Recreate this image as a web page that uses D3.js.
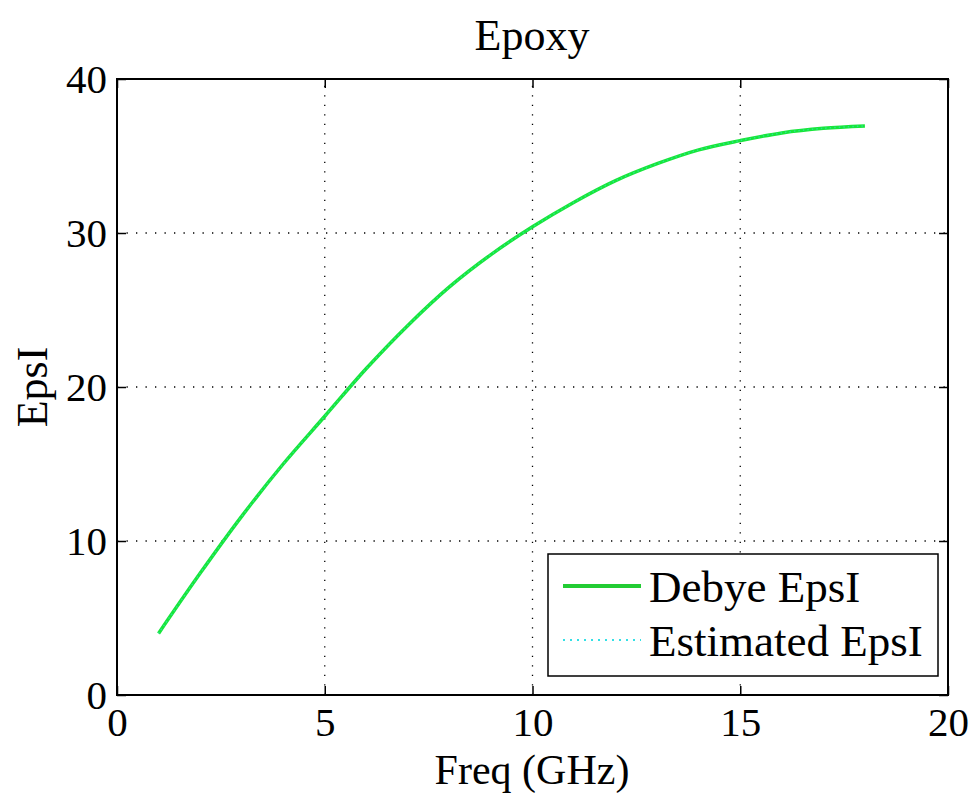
<!DOCTYPE html>
<html>
<head>
<meta charset="utf-8">
<script src="https://d3js.org/d3.v7.min.js"></script>
<style>
  html, body { margin: 0; padding: 0; background: #fff; }
  svg text { font-family: "Liberation Serif", "Times New Roman", serif; fill: #000; }
</style>
</head>
<body>
<div id="chart"></div>
<script>
!(function () {
  'use strict';

  // data
  const freq = [1, 2, 3, 4, 5, 6, 7, 8, 9, 10, 11, 12, 13, 14, 15, 16, 17, 18];
  const debyeEps = [4.0, 7.9, 11.6, 15.0, 18.1, 21.2, 24.0, 26.5, 28.6, 30.4, 32.0, 33.4, 34.5, 35.4, 36.0, 36.5, 36.8, 36.95];
  const estEps = [4.0, 7.9, 11.6, 15.0, 18.1, 21.2, 24.0, 26.5, 28.6, 30.4, 32.0, 33.4, 34.5, 35.4, 36.0, 36.5, 36.8, 36.95];
  const xTicks = [0, 5, 10, 15, 20];
  const yTicks = [0, 10, 20, 30, 40];
  const seriesNames = ['Debye EpsI', 'Estimated EpsI'];

  const width = 974, height = 800;
  const margin = { top: 79, right: 26, bottom: 105, left: 117 };
  const iw = width - margin.left - margin.right;
  const ih = height - margin.top - margin.bottom;

  const svg = d3.select('#chart').append('svg')
    .attr('width', width)
    .attr('height', height);

  const x = d3.scaleLinear().domain([0, 20]).range([margin.left, margin.left + iw]);
  const y = d3.scaleLinear().domain([0, 40]).range([margin.top + ih, margin.top]);

  // grid
  const grid = svg.append('g').attr('stroke', '#000').attr('stroke-width', 1.3)
    .attr('stroke-dasharray', '1.3,8.2');
  grid.selectAll('.gx').data(xTicks.slice(1, -1)).enter().append('line')
    .attr('x1', d => x(d)).attr('x2', d => x(d))
    .attr('y1', y(0)).attr('y2', y(40));
  grid.selectAll('.gy').data(yTicks.slice(1, -1)).enter().append('line')
    .attr('y1', d => y(d)).attr('y2', d => y(d))
    .attr('x1', x(0)).attr('x2', x(20));

  // axes with inward ticks (box style)
  const tickLen = 9;
  const axB = svg.append('g').attr('transform', 'translate(0,' + y(0) + ')')
    .call(d3.axisBottom(x).tickValues(xTicks).tickSizeInner(-tickLen).tickSizeOuter(0).tickPadding(12));
  const axT = svg.append('g').attr('transform', 'translate(0,' + y(40) + ')')
    .call(d3.axisTop(x).tickValues(xTicks).tickSizeInner(-tickLen).tickSizeOuter(0).tickFormat(''));
  const axL = svg.append('g').attr('transform', 'translate(' + x(0) + ',0)')
    .call(d3.axisLeft(y).tickValues(yTicks).tickSizeInner(-tickLen).tickSizeOuter(0).tickPadding(10));
  const axR = svg.append('g').attr('transform', 'translate(' + x(20) + ',0)')
    .call(d3.axisRight(y).tickValues(yTicks).tickSizeInner(-tickLen).tickSizeOuter(0).tickFormat(''));

  [axB, axT, axL, axR].forEach(function (a) {
    a.select('.domain').remove();
    a.selectAll('line').attr('stroke', '#000').attr('stroke-width', 1.5);
    a.selectAll('text').style('font-family', '"Liberation Serif", serif').style('font-size', '41px');
  });
  axB.selectAll('text').attr('dy', '0.71em');
  axL.selectAll('text').attr('dy', '0.34em');

  // frame
  svg.append('rect')
    .attr('x', x(0)).attr('y', y(40))
    .attr('width', x(20) - x(0)).attr('height', y(0) - y(40))
    .attr('fill', 'none').attr('stroke', '#000').attr('stroke-width', 2);

  // lines
  const line = d3.line()
    .x(d => x(d[0]))
    .y(d => y(d[1]))
    .curve(d3.curveCatmullRom);

  svg.append('path')
    .datum(d3.zip(freq, debyeEps))
    .attr('d', line)
    .attr('fill', 'none')
    .attr('stroke', '#17e63a')
    .attr('stroke-width', 3.5);

  svg.append('path')
    .datum(d3.zip(freq, estEps))
    .attr('d', line)
    .attr('fill', 'none')
    .attr('stroke', '#33e6c8')
    .attr('stroke-width', 1.5)
    .attr('stroke-dasharray', '1.5,3')
    .attr('opacity', 0.6);

  // legend
  const lg = svg.append('g');
  lg.append('rect')
    .attr('x', 548).attr('y', 554).attr('width', 390).attr('height', 122)
    .attr('fill', '#fff').attr('stroke', '#000').attr('stroke-width', 1.5);
  lg.append('line')
    .attr('x1', 563).attr('x2', 641).attr('y1', 586).attr('y2', 586)
    .attr('stroke', '#22cc33').attr('stroke-width', 4);
  lg.append('line')
    .attr('x1', 563).attr('x2', 641).attr('y1', 640).attr('y2', 640)
    .attr('stroke', '#33e0e6').attr('stroke-width', 2)
    .attr('stroke-dasharray', '2,5');
  lg.selectAll('.lt').data(seriesNames).enter().append('text')
    .attr('x', 649)
    .attr('y', (d, i) => 602 + i * 54)
    .style('font-size', '45px')
    .text(d => d);

  // titles
  svg.append('text').attr('x', 532).attr('y', 50)
    .attr('text-anchor', 'middle').style('font-size', '44px').text('Epoxy');
  svg.append('text').attr('x', 532).attr('y', 784)
    .attr('text-anchor', 'middle').style('font-size', '42px').text('Freq (GHz)');
  svg.append('text')
    .attr('transform', 'translate(47,387) rotate(-90)')
    .attr('text-anchor', 'middle').style('font-size', '44px').text('EpsI');
}());
</script>
</body>
</html>
